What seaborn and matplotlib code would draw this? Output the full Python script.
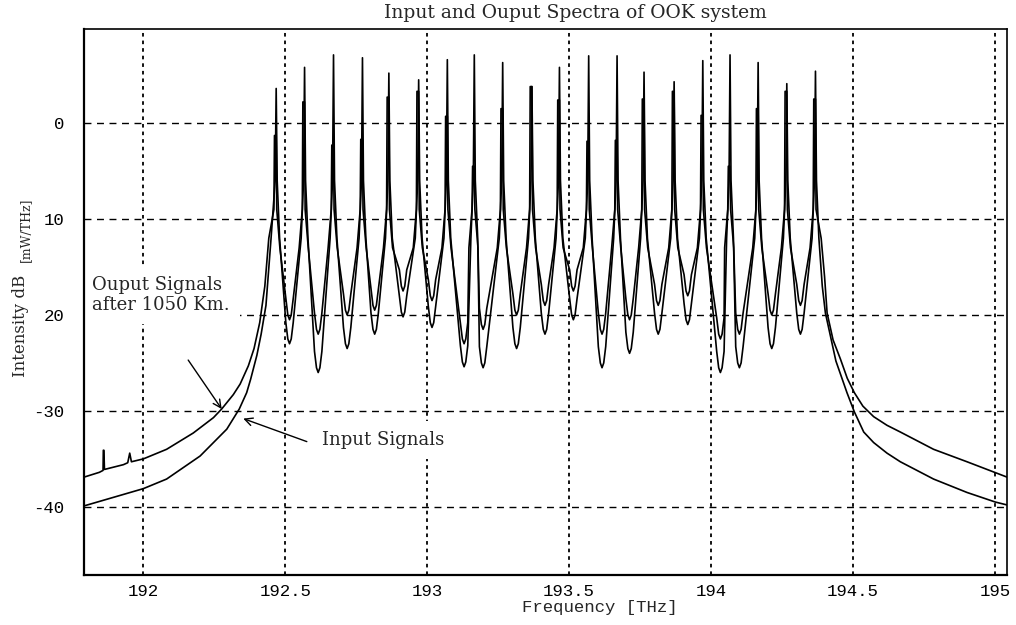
import matplotlib
matplotlib.use("Agg")
import matplotlib.pyplot as plt
import numpy as np
import pandas as pd
import seaborn as sns

# ---------------- data ----------------
PEAK_F = [192.465, 192.565, 192.667, 192.769, 192.862, 192.967, 193.068, 193.163,
          193.263, 193.366, 193.463, 193.566, 193.666, 193.761, 193.867, 193.968,
          194.064, 194.163, 194.264, 194.365]
IN_TOP = [3.6, 5.8, 7.1, 6.8, 5.2, 4.5, 6.6, 7.1, 6.3, 3.8,
          5.8, 7.0, 7.0, 5.3, 4.3, 6.5, 7.1, 6.3, 4.1, 5.4]
OUT_TOP = [-1.3, 2.2, -2.3, -1.7, 2.7, 3.3, 0.7, -4.5, 1.5, 3.8,
           2.4, -1.9, -1.8, 2.5, 3.3, 0.8, -4.5, 1.5, 3.3, 2.5]

TROUGH_F = [192.515, 192.616, 192.718, 192.815, 192.915, 193.017, 193.130, 193.197,
            193.315, 193.415, 193.515, 193.616, 193.713, 193.814, 193.918, 194.033,
            194.100, 194.214, 194.315]
OUT_TROUGH = [-20.5, -22.0, -20.0, -19.5, -17.5, -18.5, -23.0, -21.5, -20.0, -19.0,
              -17.5, -22.0, -20.5, -19.0, -18.0, -22.5, -22.0, -20.0, -19.0]
IN_TROUGH = [-23.0, -26.0, -23.5, -22.0, -20.2, -21.3, -25.4, -25.5, -23.5, -22.0,
             -20.5, -25.5, -24.0, -22.0, -21.0, -26.0, -25.5, -23.5, -22.0]

OUT_LEFT_F = [191.791, 191.845, 191.858, 191.859, 191.861, 191.863, 191.930, 191.945,
              191.952, 191.958, 192.000, 192.082, 192.176, 192.247, 192.276, 192.317,
              192.341, 192.370, 192.390, 192.410, 192.428, 192.442]
OUT_LEFT_DB = [-36.9, -36.4, -36.2, -34.1, -34.1, -36.1, -35.6, -35.4,
               -34.4, -35.3, -35.0, -34.0, -32.3, -30.7, -29.8, -28.3,
               -27.2, -25.3, -23.5, -20.8, -17.0, -12.0]
IN_LEFT_F = [191.791, 192.000, 192.082, 192.200, 192.294, 192.338, 192.364, 192.378,
             192.400, 192.415, 192.432, 192.450]
IN_LEFT_DB = [-39.9, -38.1, -37.1, -34.7, -31.9, -29.8, -28.1, -26.7,
              -24.2, -22.0, -19.0, -12.0]
OUT_RIGHT_F = [194.388, 194.400, 194.409, 194.430, 194.456, 194.480, 194.505, 194.535,
               194.573, 194.620, 194.667, 194.784, 194.902, 195.043]
OUT_RIGHT_DB = [-12.0, -16.0, -19.8, -22.6, -24.6, -26.6, -28.1, -29.5,
                -30.6, -31.5, -32.2, -34.0, -35.3, -36.9]
IN_RIGHT_F = [194.380, 194.392, 194.403, 194.440, 194.479, 194.505, 194.538, 194.573,
              194.620, 194.667, 194.784, 194.902, 195.002, 195.043]
IN_RIGHT_DB = [-12.0, -17.0, -19.8, -24.8, -28.1, -30.1, -32.2, -33.3,
               -34.4, -35.3, -37.1, -38.5, -39.5, -39.8]

X_TICKS = [192, 192.5, 193, 193.5, 194, 194.5, 195]
X_TICK_LABELS = ["192", "192.5", "193", "193.5", "194", "194.5", "195"]
Y_TICKS = [0, -10, -20, -30, -40]
Y_TICK_LABELS = ["0", "10", "20", "-30", "-40"]

TITLE = "Input and Ouput Spectra of OOK system"
XLABEL = "Frequency [THz]"
YLABEL_MAIN = "Intensity dB"
YLABEL_UNIT = "[mW/THz]"
NOTE_OUT = "Ouput Signals\nafter 1050 Km."
NOTE_IN = "Input Signals"

# ---------------- shape constants (styling only) ----------------
# (half width of spike top, half width of spike base, base level, skirt offset, skirt level)
THICK_SHAPE = (0.003, 0.005, -9.0, 0.016, -13.0)
THIN_SHAPE = (0.0, 0.0035, -6.0, 0.012, -12.0)
THIN_SHIFT = 0.003
ROUND_PTS = [(0.006, 0.5), (0.013, 2.2)]


def spectrum(left_f, left_db, tops, trough_db, right_f, right_db, shape, shift):
    top_hw, base_hw, base_db, skirt_d, skirt_db = shape
    fs, ds = list(left_f), list(left_db)
    n = len(PEAK_F)
    for k, f0 in enumerate(PEAK_F):
        f = f0 + shift
        if k > 0:
            fs.append(f - skirt_d)
            ds.append(skirt_db)
        if top_hw > 0:
            fs += [f - base_hw, f - top_hw, f + top_hw, f + base_hw]
            ds += [base_db, tops[k], tops[k], base_db]
        else:
            fs += [f - base_hw, f, f + base_hw]
            ds += [base_db, tops[k], base_db]
        if k < n - 1:
            fs.append(f + skirt_d)
            ds.append(skirt_db)
            t, v = TROUGH_F[k], trough_db[k]
            for dx, rise in reversed(ROUND_PTS):
                fs.append(t - dx)
                ds.append(v + rise)
            fs.append(t)
            ds.append(v)
            for dx, rise in ROUND_PTS:
                fs.append(t + dx)
                ds.append(v + rise)
    fs += list(right_f)
    ds += list(right_db)
    return pd.DataFrame({"f": fs, "db": ds})


df_in = spectrum(IN_LEFT_F, IN_LEFT_DB, IN_TOP, IN_TROUGH, IN_RIGHT_F, IN_RIGHT_DB,
                 THIN_SHAPE, THIN_SHIFT)
df_out = spectrum(OUT_LEFT_F, OUT_LEFT_DB, OUT_TOP, OUT_TROUGH, OUT_RIGHT_F, OUT_RIGHT_DB,
                  THICK_SHAPE, 0.0)

# ---------------- figure ----------------
sns.set_style("white")
plt.rcParams["font.family"] = ["DejaVu Serif", "DejaVu Sans"]

fig = plt.figure(figsize=(10.16, 6.25), dpi=100)
ax = fig.add_axes([0.0827, 0.08, 0.9085, 0.8736])

sns.lineplot(data=df_in, x="f", y="db", sort=False, estimator=None,
             color="black", lw=1.2, ax=ax, zorder=2)
sns.lineplot(data=df_out, x="f", y="db", sort=False, estimator=None,
             color="black", lw=1.2, ax=ax, zorder=2)

ax.set_xlim(191.791, 195.043)
ax.set_ylim(-47.1, 9.8)
ax.set_xticks(X_TICKS)
ax.set_xticklabels(X_TICK_LABELS, family="Liberation Mono", fontsize=12.5)
ax.set_yticks(Y_TICKS)
ax.set_yticklabels(Y_TICK_LABELS, family="Liberation Mono", fontsize=12.5)
ax.tick_params(axis="y", direction="out", length=5, width=1.3, pad=9, colors="black")
ax.tick_params(axis="x", direction="out", length=3.6, width=1.3, pad=3, colors="black")

ax.set_axisbelow(True)
ax.grid(False)
ax.yaxis.grid(True, linestyle=(0, (5, 4)), color="black", lw=1.0)
ax.xaxis.grid(True, linestyle=(0, (2, 2.2)), color="black", lw=1.3)

for side in ["left", "bottom"]:
    ax.spines[side].set_linewidth(1.6)
for side in ["top", "right"]:
    ax.spines[side].set_linewidth(1.2)
for sp in ax.spines.values():
    sp.set_color("black")
    sp.set_visible(True)

ax.set_xlabel(XLABEL, family="Liberation Mono", fontsize=12.5)
ax.xaxis.set_label_coords(0.559, -0.060)
ax.xaxis.label.set_va("center")
ax.set_ylabel("")

fig.text(575 / 1016, 1 - 13 / 625, TITLE, ha="center", va="center", fontsize=13.5)
fig.text(21 / 1016, 1 - 326 / 625, YLABEL_MAIN, rotation=90, ha="center", va="center",
         fontsize=12)
fig.text(25 / 1016, 1 - 230 / 625, YLABEL_UNIT, rotation=90, ha="center", va="center",
         fontsize=9)

box = dict(boxstyle="square,pad=0.55", fc="white", ec="none")
ax.text(191.819, -17.9, NOTE_OUT, ha="left", va="center", fontsize=13,
        linespacing=1.15, bbox=box, zorder=1.5)
ax.text(192.631, -33.0, NOTE_IN, ha="left", va="center", fontsize=13,
        bbox=box, zorder=1.5)
ax.annotate("", xy=(192.276, -29.8), xytext=(192.158, -24.7),
            arrowprops=dict(arrowstyle="->", color="black", lw=1.0,
                            shrinkA=0, shrinkB=0, mutation_scale=14), zorder=3)
ax.annotate("", xy=(192.352, -30.8), xytext=(192.576, -33.2),
            arrowprops=dict(arrowstyle="->", color="black", lw=1.0,
                            shrinkA=0, shrinkB=0, mutation_scale=14), zorder=3)

fig.savefig("out.png", dpi=100, facecolor="white")
